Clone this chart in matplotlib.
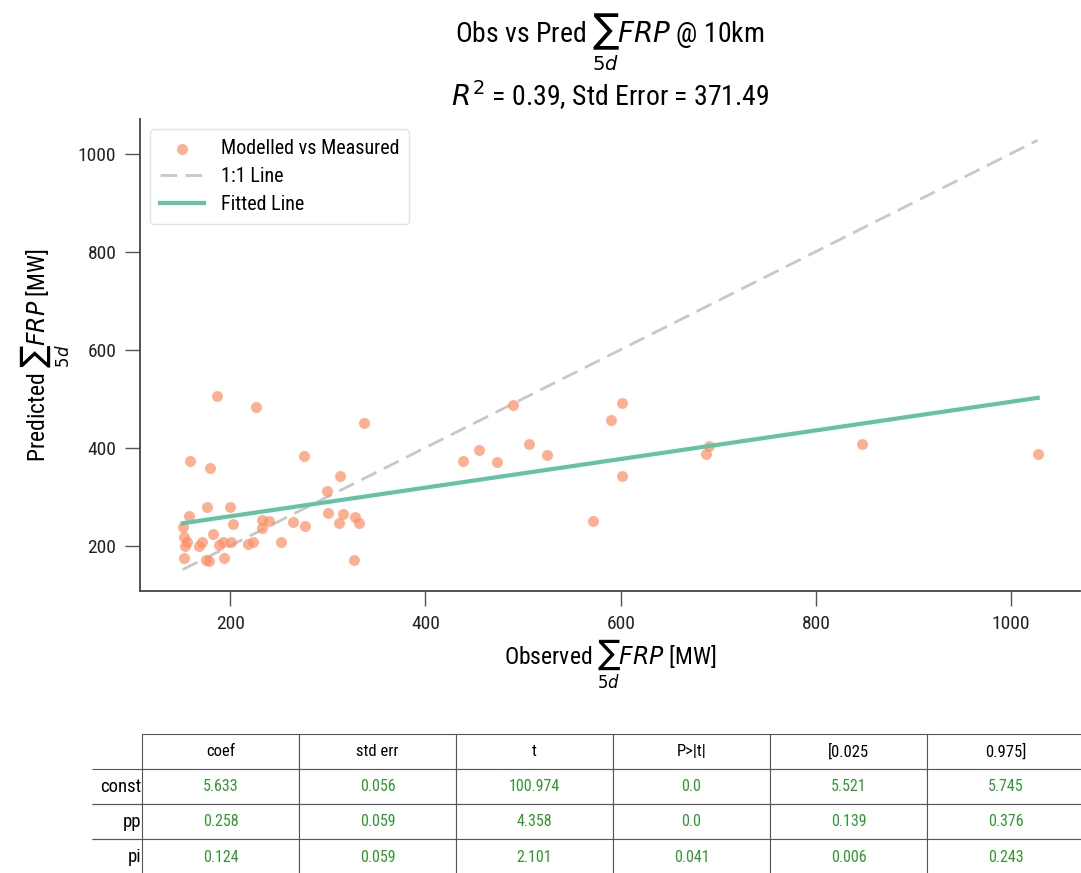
import numpy as np
import matplotlib
matplotlib.use('Agg')
import matplotlib.pyplot as plt
from matplotlib import font_manager

# pick a narrow sans if one is around, otherwise plain Roboto
names = {f.name for f in font_manager.fontManager.ttflist}
font = 'Roboto'
for cand in ['Roboto Condensed', 'Liberation Sans Narrow']:
	if cand in names:
		font = cand
		break
plt.rcParams['font.family'] = [font, 'DejaVu Sans']

obs = [186.0, 226.8, 336.7, 158.5, 179.6, 275.5, 312.6, 299.3, 157.4, 176.2,
	199.7, 151.3, 202.3, 232.3, 239.8, 232.3, 264.3, 276.8, 300.3, 315.3,
	311.2, 327.6, 331.6, 153.1, 155.8, 154.1, 171.1, 167.7, 182.7, 188.1,
	192.9, 200.7, 222.8, 252.3, 152.3, 175.2, 178.6, 193.9, 326.8, 489.8,
	601.7, 590.1, 438.5, 454.8, 473.5, 505.8, 524.5, 601.7, 571.7, 690.5,
	687.8, 846.9, 1027.2, 218.3]
pred = [505.6, 483.1, 450.5, 373.6, 358.5, 383.0, 343.0, 310.9, 261.3, 278.2,
	278.2, 238.0, 244.9, 251.7, 250.3, 236.0, 247.6, 240.9, 267.4, 264.6,
	247.0, 258.4, 245.6, 217.6, 207.4, 198.6, 207.4, 198.6, 223.1, 202.0,
	207.4, 207.4, 207.4, 207.4, 174.7, 170.0, 168.5, 174.7, 170.0, 486.0,
	490.7, 455.4, 373.6, 395.3, 370.8, 408.4, 385.1, 343.0, 249.6, 402.9,
	387.1, 408.4, 387.1, 203.0]

fit_slope = 0.292
fit_intercept = 201.6
r2 = 0.39
std_err = 371.49

col_labels = ['coef', 'std err', 't', 'P>|t|', '[0.025', '0.975]']
row_labels = ['const', 'pp', 'pi']
cell_text = [
	['5.633', '0.056', '100.974', '0.0', '5.521', '5.745'],
	['0.258', '0.059', '4.358', '0.0', '0.139', '0.376'],
	['0.124', '0.059', '2.101', '0.041', '0.006', '0.243'],
]

obs = np.array(obs)
pred = np.array(pred)
lims = np.array([obs.min(), obs.max()])

fig = plt.figure(figsize=(10.81, 8.73), dpi=100)
ax = fig.add_axes([0.1295, 0.323, 0.87, 0.541])

ax.scatter(obs, pred, s=62, color='#fc8d62', alpha=0.7, linewidths=0, label='Modelled vs Measured', zorder=3)
ax.plot(lims, lims, ls='--', color='#c8c8c8', lw=2, dashes=(6, 3), label='1:1 Line', zorder=2)
ax.plot(lims, fit_intercept + fit_slope * lims, color='#66c2a5', lw=3, label='Fitted Line', zorder=4)

for s in ['top', 'right']:
	ax.spines[s].set_visible(False)
for s in ['left', 'bottom']:
	ax.spines[s].set_color('#444444')
	ax.spines[s].set_linewidth(1.3)
ax.tick_params(direction='out', length=11, width=1, pad=6, color='#555555', labelsize=14, labelcolor='#222222')
ax.set_xticks([200, 400, 600, 800, 1000])
ax.set_yticks([200, 400, 600, 800, 1000])

ax.set_xlabel(r'Observed $\sum_{5d} FRP$ [MW]', fontsize=17, labelpad=3)
ax.set_ylabel(r'Predicted $\sum_{5d} FRP$ [MW]', fontsize=17, labelpad=4)
ax.set_title(r'Obs vs Pred $\sum_{5d} FRP$ @ 10km' + '\n' + r'$R^2$ = %.2f, Std Error = %.2f' % (r2, std_err),
	fontsize=20, pad=9)

leg = ax.legend(loc='upper left', fontsize=14.5, frameon=True, borderpad=0.5, handlelength=2.2, labelspacing=0.45)
leg.get_frame().set_edgecolor('#dddddd')

# coefficient table under the plot
tax = fig.add_axes([0, 0, 1, 1])
tax.axis('off')
n_cols = len(col_labels)
full = [[''] + col_labels] + [[r] + row for r, row in zip(row_labels, cell_text)]
widths = [50.0] + [157.0] * n_cols
tot = sum(widths)
tab = tax.table(cellText=full, colWidths=[w / tot for w in widths],
	bbox=[92 / 1081, -0.002, tot / 1081, 141 / 873], cellLoc='center')
tab.auto_set_font_size(False)
for (r, c), cell in tab.get_celld().items():
	cell.set_edgecolor('#555555')
	cell.set_linewidth(0.8)
	cell.get_text().set_fontsize(11.5)
	if r == 0 and c == 0:
		cell.visible_edges = ''
	elif r == 0:
		cell.get_text().set_fontsize(12)
	elif c == 0:
		cell.visible_edges = 'BT'
		cell.get_text().set_fontsize(13.5)
		cell.get_text().set_horizontalalignment('right')
		cell.PAD = 0.02
	else:
		cell.get_text().set_color('#2e9a2e')

fig.savefig('out.png', dpi=100)
